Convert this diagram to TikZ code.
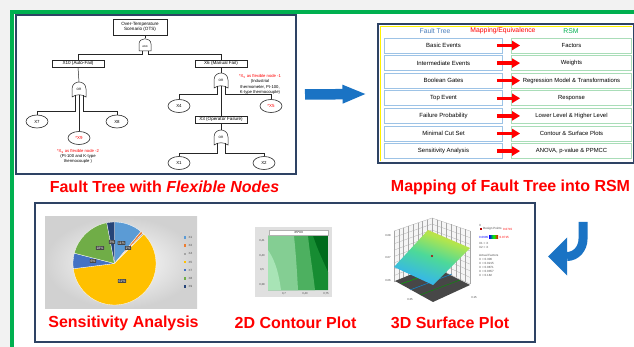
\documentclass[tikz,border=0pt]{standalone}
\usepackage{fontspec}
\setmainfont{Liberation Sans}
\usetikzlibrary{arrows.meta,shapes.geometric,calc}
\definecolor{navy}{HTML}{2E4364}
\definecolor{frgreen}{HTML}{00B050}
\definecolor{arrblue}{HTML}{1A73C4}
\definecolor{ftblue}{HTML}{4A7EBB}
\definecolor{lbox}{HTML}{9DC3E6}
\definecolor{rbox}{HTML}{A9DDB8}
\definecolor{bggray}{HTML}{F2F2F2}
\definecolor{pA}{HTML}{5B9BD5}
\definecolor{pB}{HTML}{ED7D31}
\definecolor{pC}{HTML}{A5A5A5}
\definecolor{pD}{HTML}{FFC000}
\definecolor{pE}{HTML}{4472C4}
\definecolor{pF}{HTML}{70AD47}
\definecolor{pG}{HTML}{264478}
\definecolor{cA}{HTML}{A8E4B6}
\definecolor{cB}{HTML}{84CE93}
\definecolor{cC}{HTML}{4DB060}
\definecolor{cD}{HTML}{168C32}
\definecolor{cE}{HTML}{006B1C}
\pgfdeclareverticalshading{rsmshade}{100bp}{
  rgb(0bp)=(0.15,0.35,0.95); rgb(30bp)=(0.2,0.7,0.95); rgb(50bp)=(0.3,0.85,0.6);
  rgb(65bp)=(0.7,0.9,0.3); rgb(80bp)=(1,0.75,0.2); rgb(100bp)=(1,0.45,0.2)}
\newcommand\orgate[3]{%
  \begin{scope}[shift={(#2,#3)}]
    \draw[ftline,fill=white] (-7,7) -- (-7,-1) .. controls (-7,-6) and (-3,-8) .. (0,-8)
      .. controls (3,-8) and (7,-6) .. (7,-1) -- (7,7) .. controls (3,4) and (-3,4) .. (-7,7) -- cycle;
    \node[gatetxt] (#1) at (0,-1) {OR};
    \coordinate (#1-t) at (0,-8);
    \coordinate (#1-bl) at (-4,5.5);
    \coordinate (#1-bc) at (0,4.8);
    \coordinate (#1-br) at (4,5.5);
  \end{scope}}
\newcommand\andgate[3]{%
  \begin{scope}[shift={(#2,#3)}]
    \draw[ftline,fill=white] (-6,6) -- (-6,-1) .. controls (-6,-8) and (6,-8) .. (6,-1) -- (6,6) -- cycle;
    \node[gatetxt,font=\fontsize{2.6}{3}\selectfont] (#1) at (0,1.5) {AND};
    \coordinate (#1-t) at (0,-6.5);
    \coordinate (#1-bl) at (-3,6);
    \coordinate (#1-br) at (3,6);
  \end{scope}}
\begin{document}
\begin{tikzpicture}[x=1pt,y=-1pt,
  ftline/.style={line width=0.5,draw=black!85},
  gatetxt/.style={inner sep=0,font=\fontsize{3.2}{4}\selectfont},
  ftbox/.style={draw=black!85,line width=0.6,fill=white,inner sep=0.8,align=center,font=\fontsize{4.6}{5.4}\selectfont},
  evt/.style={ellipse,draw=black!85,line width=0.6,minimum width=22,minimum height=13,inner sep=0,font=\fontsize{4.4}{5}\selectfont},
  flex/.style={align=center,font=\fontsize{4.2}{5.4}\selectfont},
  panel/.style={draw=navy,line width=2,fill=white,inner sep=0},
  captxt/.style={text=red,font=\bfseries\fontsize{16}{19}\selectfont,inner sep=0},
  lrow/.style={draw=lbox,line width=0.8,fill=white,minimum width=118,minimum height=15,inner sep=0,font=\fontsize{6}{7}\selectfont},
  rrow/.style={draw=rbox,line width=0.8,fill=white,minimum width=120,minimum height=15,inner sep=0,font=\fontsize{5.9}{7}\selectfont},
  redarr/.style={draw=red,line width=3.4,-{Triangle[width=9pt,length=8pt]}},
  plbl/.style={fill=black!72,text=white,inner sep=0.7,rounded corners=0.4,font=\fontsize{3.4}{4}\selectfont},
  legt/.style={inner sep=0,anchor=west,font=\fontsize{3}{3.5}\selectfont,text=black!70},
  ticklbl/.style={inner sep=0,font=\fontsize{2.8}{3.2}\selectfont,text=black!75}
]
\useasboundingbox (0,0) rectangle (634,347);
\fill[bggray] (0,0) rectangle (634,347);
\fill[white] (12,12) rectangle (634,347);
\draw[frgreen,line width=4] (12,347) -- (12,12) -- (634,12);

% ================= fault tree panel =================
\node[panel,minimum width=280,minimum height=159] (ft) at (156,94.5) {};
\node[ftbox,minimum width=54,minimum height=16] (top) at (140,27) {Over-Temperature\\Scenario (OTS)};
\andgate{gA}{145}{45}
\draw[ftline] (gA-t) -- (gA-t |- top.south);
\node[ftbox,minimum width=52,minimum height=7] (x10) at (78,63.5) {X10 (Auto-Fail)};
\node[ftbox,minimum width=52,minimum height=7] (x6) at (221,63.5) {X6 (Manual Fail)};
\draw[ftline] (gA-bl) -- ++(0,3) -| (x10.north);
\draw[ftline] (gA-br) -- ++(0,3) -| (x6.north);
\orgate{gL}{79}{90}
\draw[ftline] (x10.south) -- (gL-t);
\node[evt] (x7) at (37,121.5) {X7};
\node[evt] (x8) at (117,121.5) {X8};
\node[evt,text=red] (x9) at (79,138) {*X9};
\draw[ftline] (gL-bl) -- ++(0,16) -| (x7.north);
\draw[ftline] (gL-br) -- ++(0,16) -| (x8.north);
\draw[ftline] (gL-bc) -- (x9.north);
\node[flex] (x9t) at (78,156.5) {\textcolor{red}{*X\textsubscript{9} as flexible node -2}\\(Pt-100 and K-type\\thermocouple )};
\orgate{gR}{221}{81}
\draw[ftline] (x6.south) -- (gR-t);
\node[evt] (x4) at (179,106) {X4};
\node[evt,text=red] (x5) at (271,106) {*X5};
\draw[ftline] (gR-bl) -- ++(0,8) -| (x4.north);
\draw[ftline] (gR-br) -- ++(0,8) -| (x5.north);
\node[flex] (x5t) at (260,84.5) {\textcolor{red}{*X\textsubscript{5} as flexible node -1}\\(Industrial\\thermometer, Pt-100,\\K-type thermocouple)};
\node[ftbox,minimum width=52,minimum height=7] (x3) at (221,119.5) {X3 (Operator Failure)};
\draw[ftline] (gR-bc) -- (x3.north);
\orgate{gB}{221}{138}
\draw[ftline] (x3.south) -- (gB-t);
\node[evt] (x1) at (179,163) {X1};
\node[evt] (x2) at (264,163) {X2};
\draw[ftline] (gB-bl) -- ++(0,10) -| (x1.north);
\draw[ftline] (gB-br) -- ++(0,10) -| (x2.north);

\node[captxt] (capft) at (164.5,187) {Fault Tree with \textit{Flexible Nodes}};

% ================= mapping panel =================
\node[panel,minimum width=256,minimum height=139] (map) at (505.5,94) {};
\draw[yellow,line width=0.9] (380.5,161.5) -- (380.5,26.5) -- (631.5,26.5);
\node[inner sep=0,text=ftblue,font=\fontsize{6.8}{8}\selectfont] (h1) at (435,31) {Fault Tree};
\node[inner sep=0,text=red,font=\fontsize{6.8}{8}\selectfont] (h2) at (503,31) {Mapping/Equivalence};
\node[inner sep=0,text=frgreen,font=\fontsize{6.8}{8}\selectfont] (h3) at (571,31) {RSM};
\foreach \l/\r [count=\i] in {{Basic Events}/{Factors},{Intermediate Events}/{Weights},{Boolean Gates}/{Regression Model \& Transformations},{Top Event}/{Response},{Failure Probability}/{Lower Level \& Higher Level},{Minimal Cut Set}/{Contour \& Surface Plots},{Sensitivity Analysis}/{ANOVA, p-value \& PPMCC}}{
  \node[lrow] (L\i) at (443.5,{45.5+17.6*(\i-1)}) {\l};
  \node[rrow] (R\i) at (571.5,{45.5+17.6*(\i-1)}) {\r};
  \draw[redarr] ([xshift=-6]L\i.east) -- ([xshift=9]R\i.west);
}
\node[captxt] (capmap) at (510.5,187) {Mapping of Fault Tree into RSM};

% blue arrow right
\draw[arrblue,line width=10.5,-{Triangle[width=17pt,length=24pt]}] ([xshift=8]ft.east) -- ([xshift=-10]map.west);

% ================= bottom panel =================
\node[panel,minimum width=500,minimum height=139] (bot) at (285,272.5) {};

% pie chart
\shade[inner color=white,outer color=black!18] (45,217) rectangle (197,308);
\begin{scope}[shift={(114.5,263.5)},yscale=-1]
  \def\R{41.5}
  \fill[pA,draw=white,line width=0.3] (0,0) -- (90:\R) arc[start angle=90,end angle=50.4,radius=\R] -- cycle;
  \fill[pB,draw=white,line width=0.3] (0,0) -- (50.4:\R) arc[start angle=50.4,end angle=46.8,radius=\R] -- cycle;
  \fill[pC,draw=white,line width=0.3] (0,0) -- (46.8:\R) arc[start angle=46.8,end angle=45,radius=\R] -- cycle;
  \fill[pD,draw=white,line width=0.3] (0,0) -- (45:\R) arc[start angle=45,end angle=-172.8,radius=\R] -- cycle;
  \fill[pE,draw=white,line width=0.3] (0,0) -- (-172.8:\R) arc[start angle=-172.8,end angle=-194.4,radius=\R] -- cycle;
  \fill[pF,draw=white,line width=0.3] (0,0) -- (-194.4:\R) arc[start angle=-194.4,end angle=-259.2,radius=\R] -- cycle;
  \fill[pG,draw=white,line width=0.3] (0,0) -- (-259.2:\R) arc[start angle=-259.2,end angle=-270,radius=\R] -- cycle;
\end{scope}
\node[plbl] (pl1) at (112,242) {3\%};
\node[plbl] (pl2) at (121.5,243) {11\%};
\node[plbl] (pl3) at (128,248) {1\%};
\node[plbl] (pl4) at (100,248) {18\%};
\node[plbl] (pl5) at (93,261) {6\%};
\node[plbl] (pl6) at (122,281) {61\%};
\foreach \c/\t [count=\i] in {pA/X1,pB/X2,pC/X4,pD/X5,pE/X7,pF/X8,pG/X9}{
  \fill[\c] ({184},{236.2+8.2*(\i-1)}) rectangle ++(2.4,2.4);
  \node[legt] (lg\i) at (188.5,{237.4+8.2*(\i-1)}) {\t};
}
\node[captxt] (capsa) at (123.5,323) {Sensitivity Analysis};

% contour plot
\fill[black!12] (255,227) rectangle (332,297);
\begin{scope}
  \clip (268,236) rectangle (328,290);
  \fill[cE] (268,236) rectangle (328,290);
  \fill[cD] (268,236) -- (313,236) .. controls (318,250) .. (328,272) -- (328,290) -- (268,290) -- cycle;
  \fill[cC] (268,236) -- (308,236) .. controls (310,255) and (313,272) .. (315,290) -- (268,290) -- cycle;
  \fill[cB] (268,236) -- (294,236) .. controls (296,255) and (297,272) .. (298,290) -- (268,290) -- cycle;
  \fill[cA] (268,250) .. controls (276,262) and (279,275) .. (281,290) -- (268,290) -- cycle;
\end{scope}
\node[fill=white,draw=black!30,line width=0.2,minimum width=59,minimum height=5,inner sep=0,font=\fontsize{3}{3.5}\selectfont] (ct) at (298.5,232.5) {X5*X3};
\node[ticklbl] (ty1) at (262,241) {0,41};
\node[ticklbl] (ty2) at (262,256) {0,40};
\node[ticklbl] (ty3) at (262,270) {0,5};
\node[ticklbl] (ty4) at (262,285) {0,38};
\node[ticklbl] (tx1) at (284,293.5) {0,7};
\node[ticklbl] (tx2) at (305,293.5) {0,40};
\node[ticklbl] (tx3) at (326,293.5) {0,75};
\node[captxt] (capct) at (295.5,323) {2D Contour Plot};

% 3D surface plot
\fill[black!4] (394,231) -- (432,218) -- (432,266) -- (394,282) -- cycle;
\fill[black!4] (432,218) -- (470,231) -- (470,284) -- (432,266) -- cycle;
\foreach \t in {0,0.125,...,1.01}{
  \draw[black!35,line width=0.25] ($(394,231)!\t!(394,282)$) -- ($(432,218)!\t!(432,266)$) -- ($(470,231)!\t!(470,284)$);
  \draw[black!35,line width=0.25] ($(394,231)!\t!(432,218)$) -- ($(394,282)!\t!(432,266)$);
  \draw[black!35,line width=0.25] ($(432,218)!\t!(470,231)$) -- ($(432,266)!\t!(470,284)$);
}
\fill[black!72] (395,281) -- (432,266) -- (470,285) -- (433,302) -- cycle;
\draw[green!70!black,line width=0.5] (401,284) -- (440,270);
\draw[cyan!70!blue,line width=0.5] (410,290) -- (452,274);
\draw[green!60!black,line width=0.4] (420,295) -- (460,280);
\begin{scope}
  \clip (394,267) -- (428,230) -- (470,248) -- (433,285) -- cycle;
  \shade[shading=rsmshade,shading angle=-20] (390,225) rectangle (475,290);
\end{scope}
\fill[red!70!black] (432,256) circle (1.1);
\node[ticklbl] (z1) at (388,236) {0.08};
\node[ticklbl] (z2) at (388,258) {0.07};
\node[ticklbl] (z3) at (388,281) {0.06};
\node[ticklbl] (zx) at (410,300) {0.35};
\node[ticklbl] (zy) at (474,298) {0.15};
\node[legt] (lz1) at (479,225) {X};
\fill[red!70!black] (480,228.3) rectangle ++(1.6,1.6);
\node[legt] (lz2) at (483,229) {Design Points};
\node[legt,text=red] (lz3) at (503,229) {0.0715};
\node[legt,text=blue] (lz3b) at (479,237) {0.0685};
\shade[left color=blue,right color=red,middle color=green] (489,235.5) rectangle (498,238.5);
\node[legt,text=red] (lz3c) at (499.5,237) {0.0715};
\node[legt] (lz4) at (479,243) {X1 = X};
\node[legt] (lz5) at (479,247) {X2 = X};
\node[legt] (lz6) at (479,255) {Actual Factors};
\node[legt] (lz7) at (479,259) {X = 0.306};
\node[legt] (lz8) at (479,263) {X = 0.0215};
\node[legt] (lz9) at (479,267) {X = 0.0871};
\node[legt] (lz9b) at (479,271) {X = 0.0357};
\node[legt] (lz10) at (479,275) {X = 0.182};
\node[captxt] (cap3d) at (450,323) {3D Surface Plot};

% hook arrow
\coordinate (hk1) at (583,222);
\coordinate (hk2) at (567,256.5);
\draw[arrblue,line width=9] (hk1) -- ++(0,17) to[out=-90,in=0] (hk2);
\fill[arrblue] (567,237.5) -- (548,256.5) -- (567,275.5) -- cycle;
\end{tikzpicture}
\end{document}
